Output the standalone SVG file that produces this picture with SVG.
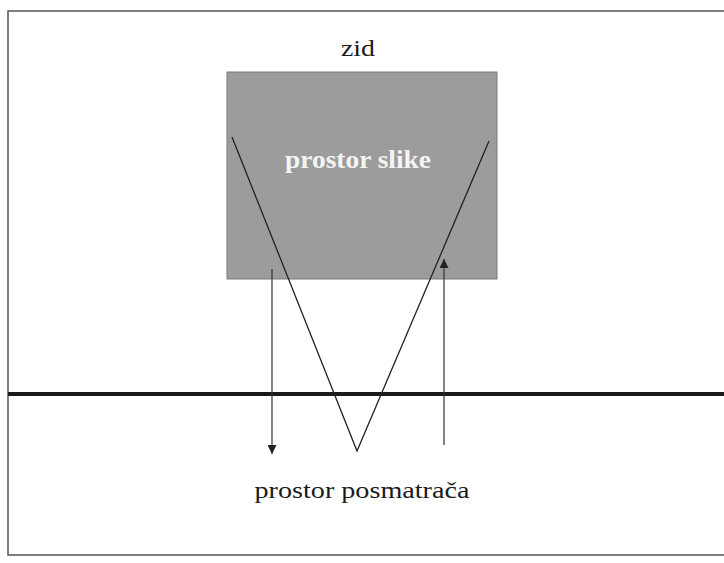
<svg xmlns="http://www.w3.org/2000/svg" width="724" height="563" viewBox="0 0 724 563">
<style>
.frame{fill:none;stroke:#555;stroke-width:1.5}
.line{fill:none;stroke:#222;stroke-width:1.3}
.arrow{fill:none;stroke:#333;stroke-width:1.2}
.lbl{font-family:"Liberation Serif","DejaVu Serif",serif;fill:#1a1a1a}
</style>
<defs>
<marker id="ah" viewBox="0 0 10 10" refX="10" refY="5" markerWidth="10" markerHeight="9" markerUnits="userSpaceOnUse" orient="auto">
<path d="M0,0 L10,5 L0,10 Z" fill="#222"/>
</marker>
</defs>
<rect width="724" height="563" fill="#fff"/>
<path class="frame" d="M724,11 H8 V555 H724"/>
<g id="wall-label"><text class="lbl" x="358" y="56" font-size="24" text-anchor="middle" textLength="34" lengthAdjust="spacingAndGlyphs">zid</text></g>
<g id="picture-space">
<rect x="227" y="72" width="270" height="207" fill="#9c9c9c" stroke="#7a7a7a" stroke-width="1"/>
<text class="lbl" x="358" y="168" font-size="26" font-weight="bold" style="fill:#f4f4f4" text-anchor="middle" textLength="146" lengthAdjust="spacingAndGlyphs">prostor slike</text>
</g>
<g id="ground-line"><line x1="8" y1="394" x2="724" y2="394" stroke="#1a1a1a" stroke-width="4"/></g>
<g id="viewer-space"><text class="lbl" x="362" y="498" font-size="24" text-anchor="middle" textLength="215" lengthAdjust="spacingAndGlyphs">prostor posmatrača</text></g>
<g id="connectors">
<polyline class="line" points="232,137 357,451 489,141"/>
<line class="arrow" x1="272" y1="269" x2="272" y2="454" marker-end="url(#ah)"/>
<line class="arrow" x1="444" y1="445" x2="444" y2="259" marker-end="url(#ah)"/>
</g>
</svg>
